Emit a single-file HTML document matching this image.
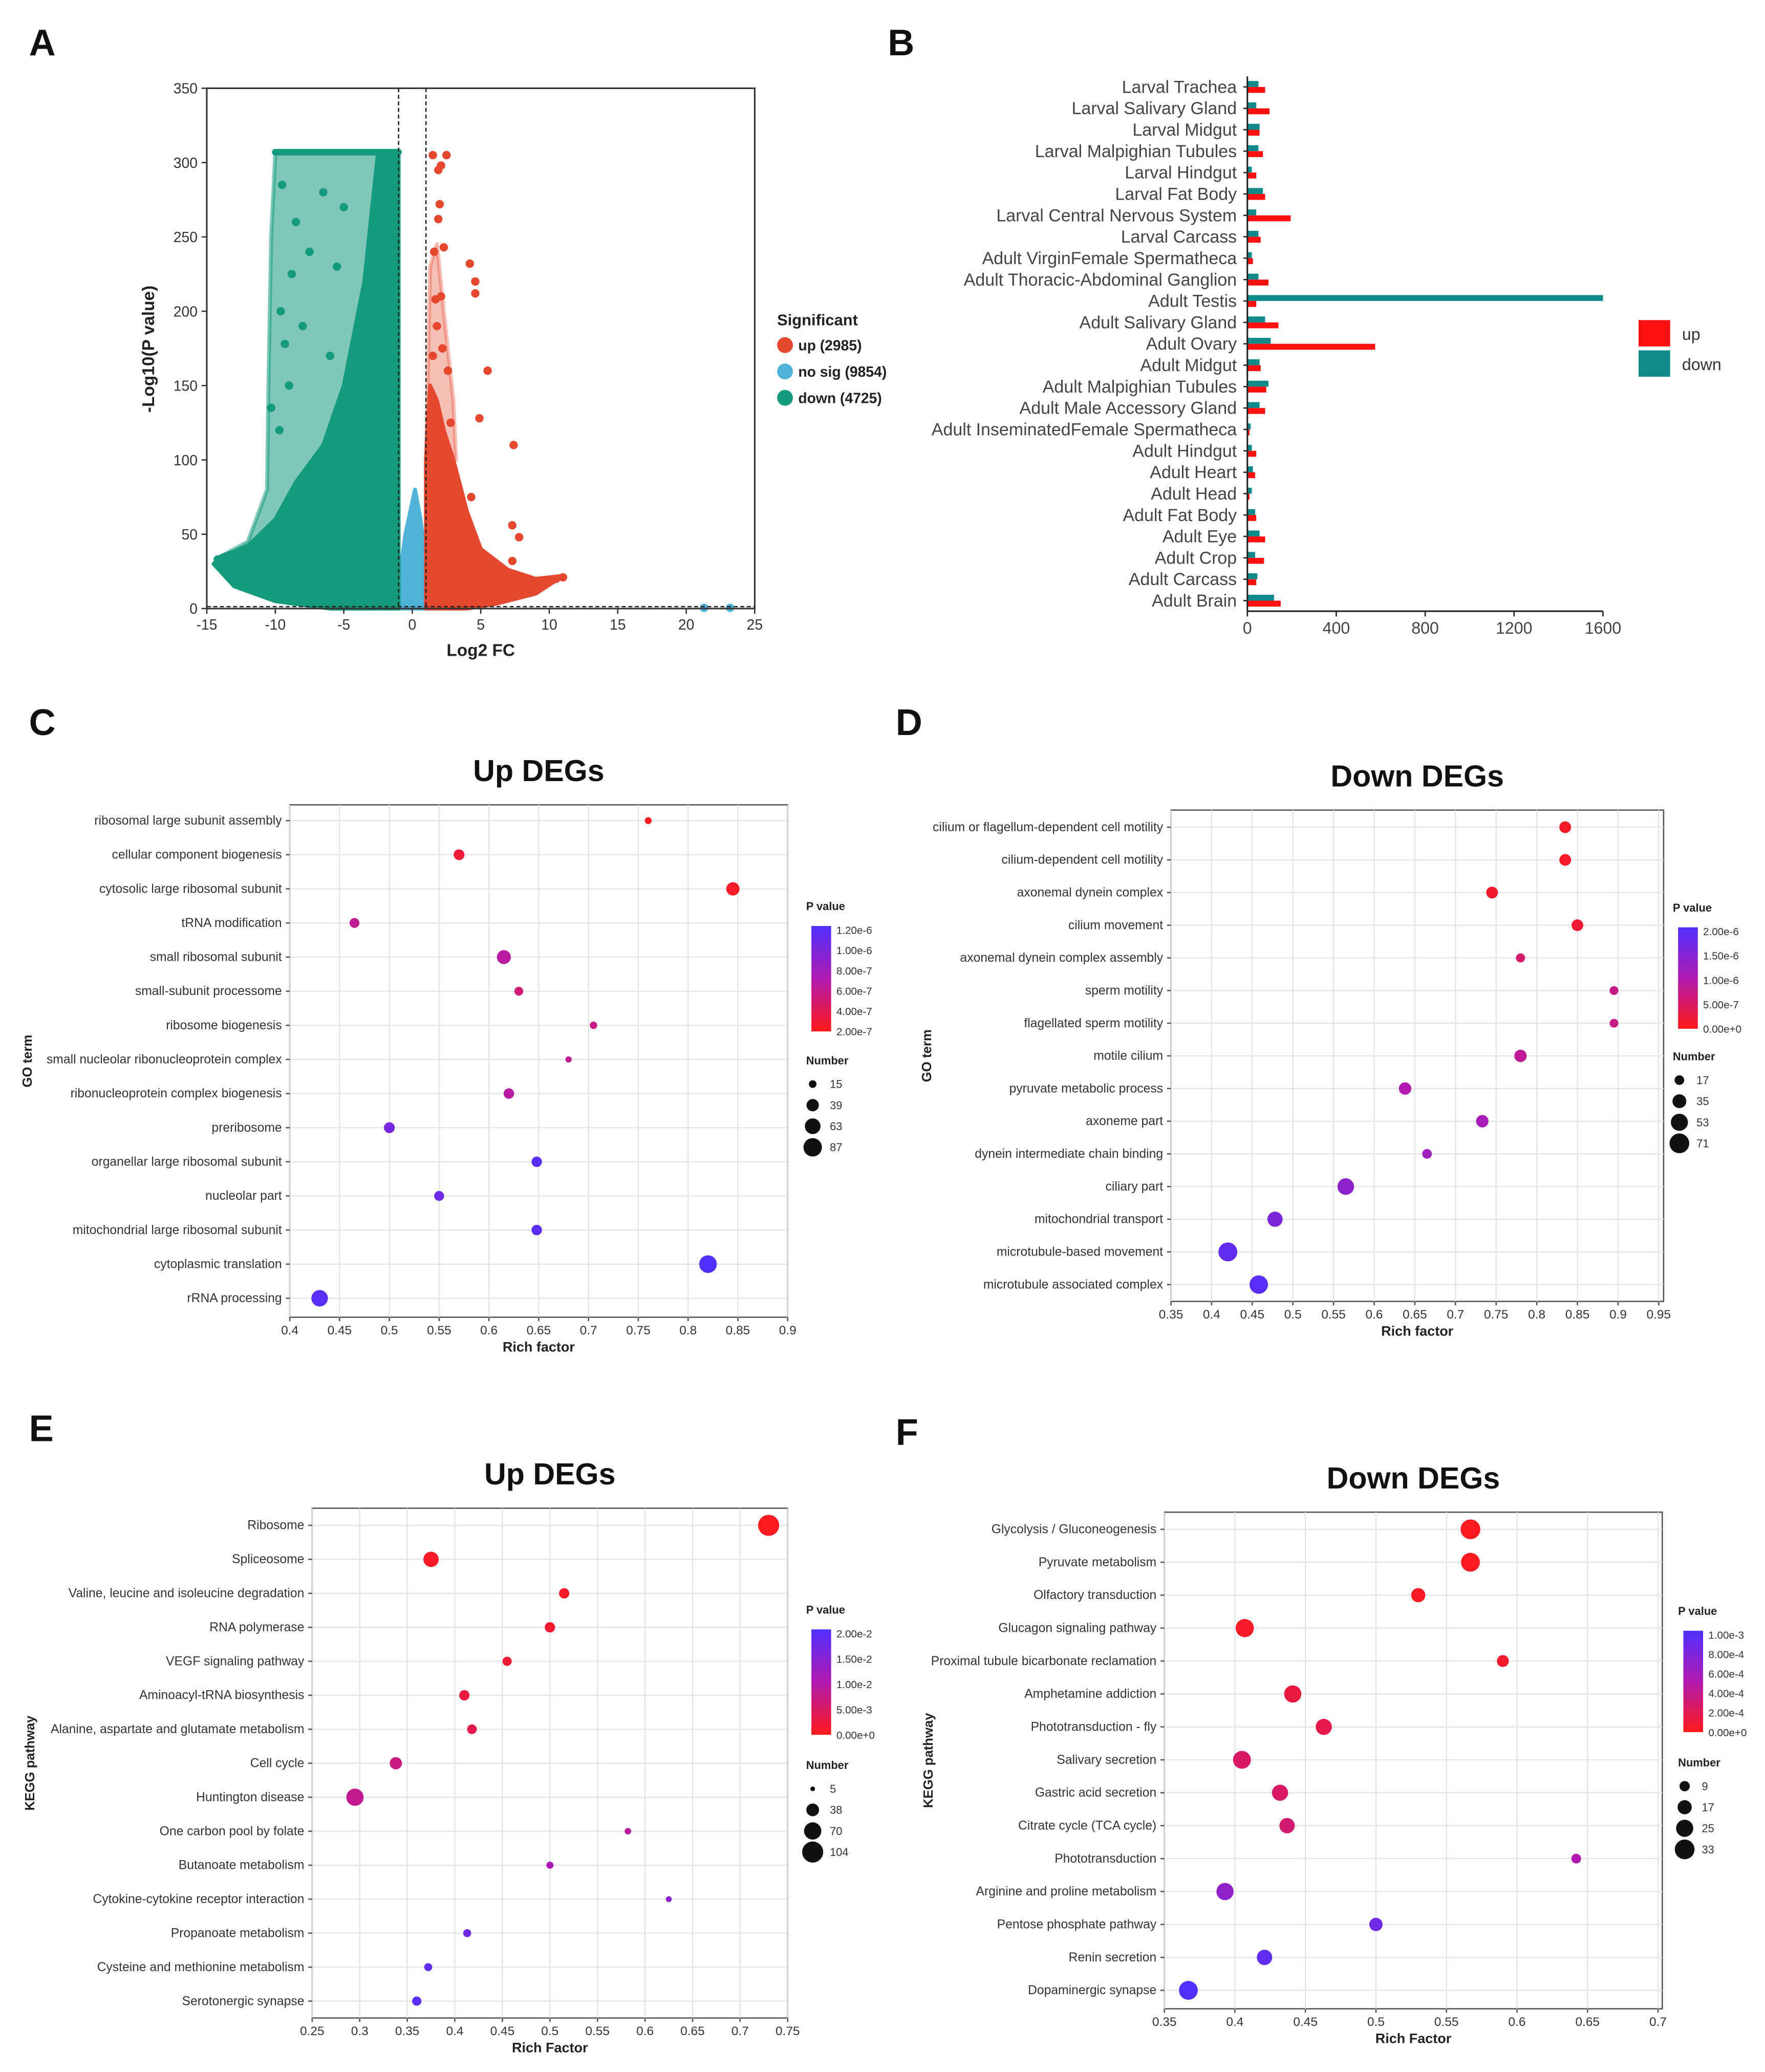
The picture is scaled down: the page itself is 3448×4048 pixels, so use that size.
<!DOCTYPE html>
<html><head><meta charset="utf-8">
<style>
html,body{margin:0;padding:0;background:#fff;}
svg{display:block;}
text{font-family:"Liberation Sans",sans-serif;}
</style></head>
<body>
<svg id="fig" xmlns="http://www.w3.org/2000/svg" width="3448" height="4048" viewBox="0 0 1340 1573" preserveAspectRatio="none">
<defs>
<linearGradient id="pgrad" x1="0" y1="0" x2="0" y2="1">
<stop offset="0" stop-color="#5030ff"/><stop offset="0.5" stop-color="#b01ab0"/><stop offset="1" stop-color="#ff1a1a"/>
</linearGradient>
</defs>
</svg>
<script>
// ===== Panel A data (volcano) =====
const volcXTicks=[-15,-10,-5,0,5,10,15,20,25];
const volcYTicks=[0,50,100,150,200,250,300,350];
const downSparseEnvelope=[[-1,0],[-1,307],[-10,307],[-10.3,250],[-10.5,150],[-10.6,80],[-12,45],[-14,35],[-14.5,30],[-13,15],[-10,5],[-6,0]];
const downEnvelope=[[-1,0],[-1,307],[-2.5,307],[-3.5,220],[-5,150],[-6.5,110],[-8.5,85],[-10,60],[-12,42],[-14,35],[-14.5,30],[-13,15],[-10,5],[-6,0]];
const upSparseEnvelope=[[1,100],[1.3,230],[1.8,245],[2.3,200],[3,140],[3.2,100]];
const upEnvelope=[[1,0],[1,100],[1.3,150],[1.8,140],[2.3,120],[3,100],[4,65],[5,40],[7,26],[9,20],[11,22],[9,10],[6,3],[4,0]];
const nosigEnvelope=[[-1,0],[-1,15],[-0.5,50],[0.2,80],[0.6,60],[1,30],[1,0]];
const upOutliers=[[1.5,305],[2.5,305],[2.1,298],[1.9,295],[2,272],[1.9,262],[1.6,240],[2.3,243],[4.2,232],[4.6,220],[4.6,212],[1.7,208],[2.1,210],[5.5,160],[4.9,128],[2.8,125],[7.4,110],[4.3,75],[7.3,56],[7.8,48],[7.3,32],[11,21],[10.5,20],[1.8,190],[2.2,175],[1.5,170],[2.6,160]];
const downOutliers=[[-14.2,33],[-13.8,30],[-9.6,200],[-9.7,120],[-10.3,135],[-9.3,178],[-8.5,260],[-7.5,240],[-6.5,280],[-5.5,230],[-8,190],[-6,170],[-9,150],[-5,270],[-9.5,285],[-8.8,225]];
const nosigOutliers=[[21.3,0.5],[23.2,0.5]];
// ===== Panel B data =====
const tissues=["Larval Trachea","Larval Salivary Gland","Larval Midgut","Larval Malpighian Tubules","Larval Hindgut","Larval Fat Body","Larval Central Nervous System","Larval Carcass","Adult VirginFemale Spermatheca","Adult Thoracic-Abdominal Ganglion","Adult Testis","Adult Salivary Gland","Adult Ovary","Adult Midgut","Adult Malpighian Tubules","Adult Male Accessory Gland","Adult InseminatedFemale Spermatheca","Adult Hindgut","Adult Heart","Adult Head","Adult Fat Body","Adult Eye","Adult Crop","Adult Carcass","Adult Brain"];
const tissueUp=[80,100,55,70,40,80,195,60,25,95,40,140,575,60,85,80,10,40,35,10,40,80,75,40,150];
const tissueDown=[50,40,55,50,20,70,40,50,20,50,1600,80,105,55,95,55,15,20,25,20,35,55,35,45,120];
const tissueTicks=[0,400,800,1200,1600];
// ===== Panel C data =====
const cTerms=["ribosomal large subunit assembly","cellular component biogenesis","cytosolic large ribosomal subunit","tRNA modification","small ribosomal subunit","small-subunit processome","ribosome biogenesis","small nucleolar ribonucleoprotein complex","ribonucleoprotein complex biogenesis","preribosome","organellar large ribosomal subunit","nucleolar part","mitochondrial large ribosomal subunit","cytoplasmic translation","rRNA processing"];
const cRich=[0.76,0.57,0.845,0.465,0.615,0.63,0.705,0.68,0.62,0.5,0.648,0.55,0.648,0.82,0.43];
const cCount=[12,30,45,25,50,20,14,10,28,30,28,25,28,80,70];
const cP=[2.2e-7,3e-7,2.5e-7,6e-7,6.5e-7,5e-7,5.5e-7,6e-7,6.5e-7,1.0e-6,1.15e-6,1.05e-6,1.15e-6,1.2e-6,1.15e-6];
const cXTicks=[0.4,0.45,0.5,0.55,0.6,0.65,0.7,0.75,0.8,0.85,0.9];
const cPTicks=["1.20e-6","1.00e-6","8.00e-7","6.00e-7","4.00e-7","2.00e-7"];
const cNumTicks=[15,39,63,87];
// ===== Panel D data =====
const dTerms=["cilium or flagellum-dependent cell motility","cilium-dependent cell motility","axonemal dynein complex","cilium movement","axonemal dynein complex assembly","sperm motility","flagellated sperm motility","motile cilium","pyruvate metabolic process","axoneme part","dynein intermediate chain binding","ciliary part","mitochondrial transport","microtubule-based movement","microtubule associated complex"];
const dRich=[0.835,0.835,0.745,0.85,0.78,0.895,0.895,0.78,0.638,0.733,0.665,0.565,0.478,0.42,0.458];
const dCount=[25,25,25,25,15,14,14,28,28,28,17,50,42,65,62];
const dP=[1e-7,1e-7,1.5e-7,2e-7,6e-7,8e-7,8e-7,9e-7,1.1e-6,1.2e-6,1.3e-6,1.5e-6,1.7e-6,2.0e-6,2.1e-6];
const dXTicks=[0.35,0.4,0.45,0.5,0.55,0.6,0.65,0.7,0.75,0.8,0.85,0.9,0.95];
const dPTicks=["2.00e-6","1.50e-6","1.00e-6","5.00e-7","0.00e+0"];
const dNumTicks=[17,35,53,71];
// ===== Panel E data =====
const eTerms=["Ribosome","Spliceosome","Valine, leucine and isoleucine degradation","RNA polymerase","VEGF signaling pathway","Aminoacyl-tRNA biosynthesis","Alanine, aspartate and glutamate metabolism","Cell cycle","Huntington disease","One carbon pool by folate","Butanoate metabolism","Cytokine-cytokine receptor interaction","Propanoate metabolism","Cysteine and methionine metabolism","Serotonergic synapse"];
const eRich=[0.73,0.375,0.515,0.5,0.455,0.41,0.418,0.338,0.295,0.582,0.5,0.625,0.413,0.372,0.36];
const eCount=[104,55,25,25,20,25,22,35,70,10,12,8,15,15,20];
const eP=[0.0005,0.001,0.001,0.0015,0.002,0.003,0.004,0.008,0.009,0.01,0.012,0.016,0.019,0.021,0.022];
const eXTicks=[0.25,0.3,0.35,0.4,0.45,0.5,0.55,0.6,0.65,0.7,0.75];
const ePTicks=["2.00e-2","1.50e-2","1.00e-2","5.00e-3","0.00e+0"];
const eNumTicks=[5,38,70,104];
// ===== Panel F data =====
const fTerms=["Glycolysis / Gluconeogenesis","Pyruvate metabolism","Olfactory transduction","Glucagon signaling pathway","Proximal tubule bicarbonate reclamation","Amphetamine addiction","Phototransduction - fly","Salivary secretion","Gastric acid secretion","Citrate cycle (TCA cycle)","Phototransduction","Arginine and proline metabolism","Pentose phosphate pathway","Renin secretion","Dopaminergic synapse"];
const fRich=[0.567,0.567,0.53,0.407,0.59,0.441,0.463,0.405,0.432,0.437,0.642,0.393,0.5,0.421,0.367];
const fCount=[33,30,17,28,12,25,22,27,22,20,8,25,15,20,30];
const fP=[0.00002,0.00003,0.00004,0.00006,0.00008,0.00015,0.0002,0.0003,0.0003,0.00035,0.0006,0.0008,0.001,0.0011,0.0012];
const fXTicks=[0.35,0.4,0.45,0.5,0.55,0.6,0.65,0.7];
const fPTicks=["1.00e-3","8.00e-4","6.00e-4","4.00e-4","2.00e-4","0.00e+0"];
const fNumTicks=[9,17,25,33];

const NS="http://www.w3.org/2000/svg";
const svg=document.getElementById('fig');
function mk(tag,attrs,parent){const e=document.createElementNS(NS,tag);for(const k in attrs)e.setAttribute(k,attrs[k]);(parent||svg).appendChild(e);return e;}
function txt(s,x,y,size,attrs,parent){const a=Object.assign({x:x,y:y,'font-size':size,fill:'#222'},attrs||{});const t=mk('text',a,parent);t.textContent=s;return t;}
function fmt(v){return (Math.round(v*100)/100).toString();}

[["A",22,42],["B",674,42],["C",22,558],["D",680,558],["E",22,1094],["F",680,1097]].forEach(l=>{
  const t=txt(l[0],l[1],l[2],28,{'font-weight':'bold',fill:'#111'});
  
  
});

// ===== Panel A =====
(function(){
  const g=mk('g',{});
  
  
  const x0=157,x1=573,y0=462,y1=67;
  const X=v=>x0+(v+15)/40*(x1-x0), Y=v=>y0-v/350*(y0-y1);
  const poly=(pts,col,op,name)=>{const p=mk('polygon',{points:pts.map(q=>X(q[0])+','+Y(q[1])).join(' '),fill:col,'fill-opacity':op,stroke:col,'stroke-opacity':op,'stroke-width':3,'stroke-linejoin':'round'},g);
    };
  poly(nosigEnvelope,'#4fb3d9',1,'nosig-points');
  poly(downSparseEnvelope,'#159a7d',0.55,'down-points-sparse');
  poly(downEnvelope,'#159a7d',1,'down-points');
  poly(upSparseEnvelope,'#e5482f',0.35,'up-points-sparse');
  poly(upEnvelope,'#e5482f',1,'up-points');
  const band=mk('line',{x1:X(-10),x2:X(-1),y1:Y(307),y2:Y(307),stroke:'#159a7d','stroke-width':5,'stroke-linecap':'round'},g);
  
  const dots=(arr,col,name)=>arr.forEach(q=>{const c=mk('circle',{cx:X(q[0]),cy:Y(q[1]),r:3.2,fill:col},g);
    });
  dots(upOutliers,'#e5482f','up-point');dots(downOutliers,'#159a7d','down-point');dots(nosigOutliers,'#4fb3d9','nosig-point');
  const frame=mk('rect',{x:x0,y:y1,width:x1-x0,height:y0-y1,fill:'none',stroke:'#333','stroke-width':1.2},g);
  
  [[-1],[1]].forEach(v=>{const l=mk('line',{x1:X(v[0]),x2:X(v[0]),y1:y1,y2:y0,stroke:'#222','stroke-dasharray':'3,2','stroke-width':1},g);
    });
  const h=mk('line',{x1:x0,x2:x1,y1:Y(1.3),y2:Y(1.3),stroke:'#222','stroke-dasharray':'3,2','stroke-width':1},g);
  
  volcXTicks.forEach(v=>{mk('line',{x1:X(v),x2:X(v),y1:y0,y2:y0+4,stroke:'#333'},g);
    const t=txt(String(v),X(v),y0+16,11,{'text-anchor':'middle',fill:'#333'},g);
    });
  volcYTicks.forEach(v=>{mk('line',{x1:x0-4,x2:x0,y1:Y(v),y2:Y(v),stroke:'#333'},g);
    const t=txt(String(v),x0-7,Y(v)+4,11,{'text-anchor':'end',fill:'#333'},g);
    });
  const xt=txt('Log2 FC',365,498,13,{'text-anchor':'middle','font-weight':'bold'},g);
  
  const yt=txt('-Log10(P value)',0,0,13,{'text-anchor':'middle','font-weight':'bold',transform:'translate(117,265) rotate(-90)'},g);
  
  const lt=txt('Significant',590,247,12,{'font-weight':'bold'},g);
  
  [['up (2985)','#e5482f',262],['no sig (9854)','#4fb3d9',282],['down (4725)','#159a7d',302]].forEach(e=>{
    const c=mk('circle',{cx:596,cy:e[2],r:6,fill:e[1]},g);
    
    const t=txt(e[0],606,e[2]+4,11,{'font-weight':'bold'},g);
    });
})();

// ===== Panel B =====
(function(){
  const g=mk('g',{});
  
  
  const x0=947,x1=1217,yTop=66,step=16.25;
  const X=v=>x0+v/1600*(x1-x0);
  tissues.forEach((n,i)=>{
    const yc=yTop+i*step;
    const bd=mk('rect',{x:x0,y:yc-4.5,width:X(tissueDown[i])-x0,height:4.5,fill:'#10898a'},g);
    
    const bu=mk('rect',{x:x0,y:yc,width:X(tissueUp[i])-x0,height:4.5,fill:'#ff1010'},g);
    
    mk('line',{x1:x0-3,x2:x0,y1:yc,y2:yc,stroke:'#222'},g);
    const t=txt(n,x0-8,yc+4.5,13.2,{'text-anchor':'end',fill:'#444'},g);
    
  });
  const ax=mk('line',{x1:x0,x2:x0,y1:58,y2:464,stroke:'#222','stroke-width':1.2},g);
  
  const bx=mk('line',{x1:x0,x2:x1,y1:464,y2:464,stroke:'#222','stroke-width':1.2},g);
  
  tissueTicks.forEach(v=>{mk('line',{x1:X(v),x2:X(v),y1:464,y2:468,stroke:'#222'},g);
    const t=txt(String(v),X(v),481,12.5,{'text-anchor':'middle',fill:'#444'},g);
    });
  [['up','#ff1010',243],['down','#10898a',266]].forEach(e=>{
    const r=mk('rect',{x:1244,y:e[2],width:24,height:20,fill:e[1]},g);
    
    const t=txt(e[0],1277,e[2]+15,12.5,{fill:'#333'},g);
    });
})();

// ===== Bubble panels =====
function colorFor(t){
  const a=[255,26,26],m=[176,26,176],b=[80,48,255];
  let c;if(t<0.5){const s=t/0.5;c=a.map((v,i)=>v+(m[i]-v)*s);}else{const s=(t-0.5)/0.5;c=m.map((v,i)=>v+(b[i]-v)*s);}
  return 'rgb('+c.map(Math.round).join(',')+')';
}
function bubble(cfg){
  const g=mk('g',{});
  
  
  const {bx0,bx1,by0,by1,xmin,xmax,row0,rowStep}=cfg;
  const X=v=>bx0+(v-xmin)/(xmax-xmin)*(bx1-bx0);
  const frame=mk('rect',{x:bx0,y:by0,width:bx1-bx0,height:by1-by0,fill:'#fff',stroke:'#555','stroke-width':1},g);
  
  cfg.xticks.forEach(v=>{const gl=mk('line',{x1:X(v),x2:X(v),y1:by0,y2:by1,stroke:'#e2e2e2','stroke-width':0.8},g);
    
    mk('line',{x1:X(v),x2:X(v),y1:by1,y2:by1+3,stroke:'#555'},g);
    const t=txt(fmt(v),X(v),by1+13,9.5,{'text-anchor':'middle',fill:'#333'},g);
    });
  cfg.terms.forEach((n,i)=>{const y=row0+i*rowStep;
    const gl=mk('line',{x1:bx0,x2:bx1,y1:y,y2:y,stroke:'#e2e2e2','stroke-width':0.8},g);
    
    mk('line',{x1:bx0-3,x2:bx0,y1:y,y2:y,stroke:'#555'},g);
    const t=txt(n,bx0-6,y+3,9.6,{'text-anchor':'end',fill:'#333'},g);
    });
  cfg.terms.forEach((n,i)=>{const y=row0+i*rowStep;
    const tcol=(cfg.p[i]-cfg.pmin)/(cfg.pmax-cfg.pmin);
    const c=mk('circle',{cx:X(cfg.rich[i]),cy:y,r:cfg.rScale(cfg.count[i]),fill:colorFor(Math.max(0,Math.min(1,tcol)))},g);
    });
  const tt=txt(cfg.title,(bx0+bx1)/2,by0-18,23,{'text-anchor':'middle','font-weight':'bold',fill:'#111'},g);
  
  const xt=txt(cfg.xlabel,(bx0+bx1)/2,by1+26,10.5,{'text-anchor':'middle','font-weight':'bold'},g);
  
  const yt=txt(cfg.ylabel,0,0,10,{'text-anchor':'middle','font-weight':'bold',transform:'translate('+cfg.ylx+','+((by0+by1)/2)+') rotate(-90)'},g);
  
  const pt=txt('P value',cfg.lx,cfg.cbTop-12,8.5,{'font-weight':'bold'},g);
  
  const cb=mk('rect',{x:cfg.lx+4,y:cfg.cbTop,width:15,height:cfg.cbH,fill:'url(#pgrad)'},g);
  
  cfg.ptks.forEach((s,i)=>{const y=cfg.cbTop+3+i*(cfg.cbH-3)/(cfg.ptks.length-1);
    const t=txt(s,cfg.lx+23,y+3,8,{fill:'#333'},g);
    });
  const nt=txt('Number',cfg.lx,cfg.numTop,8.5,{'font-weight':'bold'},g);
  
  cfg.ntks.forEach((v,i)=>{const y=cfg.numTop+15+i*16;
    const c=mk('circle',{cx:cfg.lx+5,cy:y,r:cfg.rScale(v),fill:'#111'},g);
    
    const t=txt(String(v),cfg.lx+18,y+3,8.5,{fill:'#333'},g);
    });
}
const rs=(maxN,maxR)=>n=>Math.max(1.8,Math.sqrt(n/maxN)*maxR);
bubble({name:'go-up-bubble-chart',title:'Up DEGs',terms:cTerms,rich:cRich,count:cCount,p:cP,pmin:2e-7,pmax:1.2e-6,
  bx0:220,bx1:598,by0:611,by1:1000,xmin:0.4,xmax:0.9,row0:623,rowStep:25.9,xticks:cXTicks,xlabel:'Rich factor',ylabel:'GO term',ylx:24,
  lx:612,cbTop:703,cbH:80,ptks:cPTicks,numTop:808,ntks:cNumTicks,rScale:rs(87,7)});
bubble({name:'go-down-bubble-chart',title:'Down DEGs',terms:dTerms,rich:dRich,count:dCount,p:dP,pmin:0,pmax:2.2e-6,
  bx0:889,bx1:1263,by0:615,by1:988,xmin:0.35,xmax:0.956,row0:628,rowStep:24.8,xticks:dXTicks,xlabel:'Rich factor',ylabel:'GO term',ylx:707,
  lx:1270,cbTop:704,cbH:77,ptks:dPTicks,numTop:805,ntks:dNumTicks,rScale:rs(71,7.5)});
bubble({name:'kegg-up-bubble-chart',title:'Up DEGs',terms:eTerms,rich:eRich,count:eCount,p:eP,pmin:0,pmax:0.023,
  bx0:237,bx1:598,by0:1145,by1:1532,xmin:0.25,xmax:0.75,row0:1158,rowStep:25.8,xticks:eXTicks,xlabel:'Rich Factor',ylabel:'KEGG pathway',ylx:26,
  lx:612,cbTop:1237,cbH:80,ptks:ePTicks,numTop:1343,ntks:eNumTicks,rScale:rs(104,8)});
bubble({name:'kegg-down-bubble-chart',title:'Down DEGs',terms:fTerms,rich:fRich,count:fCount,p:fP,pmin:0,pmax:0.0012,
  bx0:884,bx1:1262,by0:1148,by1:1525,xmin:0.35,xmax:0.703,row0:1161,rowStep:25,xticks:fXTicks,xlabel:'Rich Factor',ylabel:'KEGG pathway',ylx:708,
  lx:1274,cbTop:1238,cbH:77,ptks:fPTicks,numTop:1341,ntks:fNumTicks,rScale:rs(33,7.5)});
</script>
</body></html>
